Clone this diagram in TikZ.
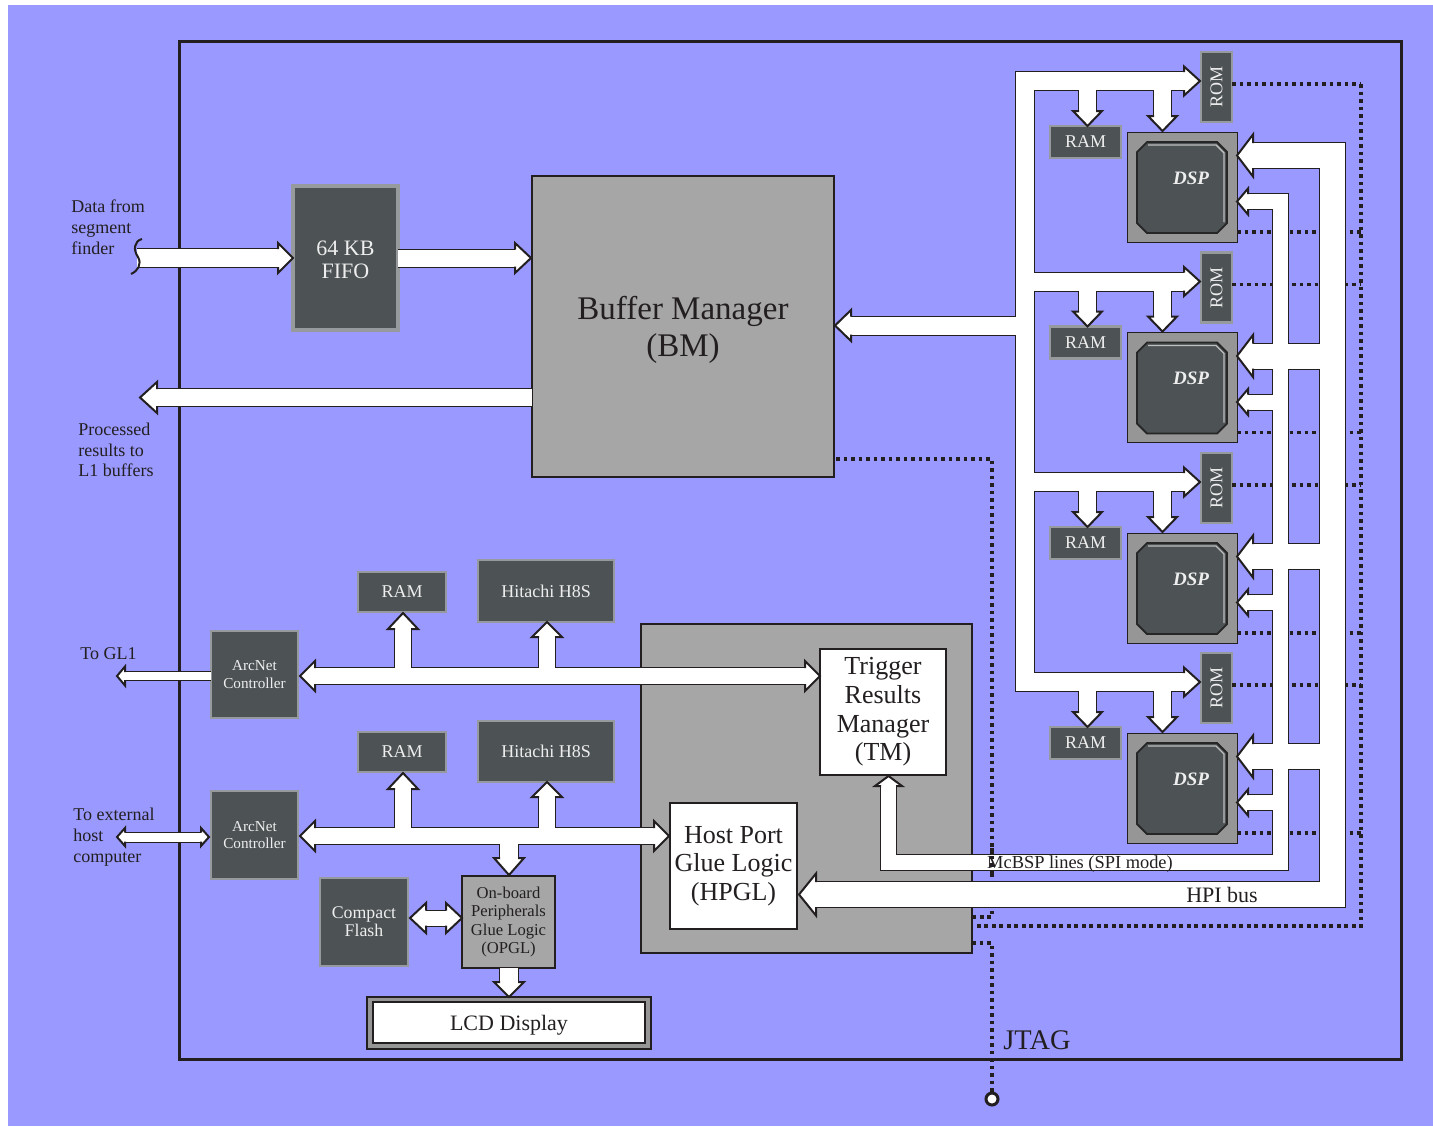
\documentclass[tikz,border=0pt]{standalone}
\usepackage{fontspec}
\usepackage{graphicx}
\setmainfont{Liberation Serif}
\usetikzlibrary{calc}
\definecolor{bgp}{RGB}{153,153,255}
\definecolor{ink}{RGB}{35,31,32}
\definecolor{boxdark}{RGB}{77,82,84}
\definecolor{bevel}{RGB}{150,154,156}
\definecolor{midgray}{RGB}{166,166,166}
\definecolor{dspgray}{RGB}{150,150,150}
\definecolor{txtlight}{RGB}{238,238,238}
\newcommand\fs[2]{\fontsize{#1}{#2}\selectfont}
\tikzset{
 darkbox/.style={fill=boxdark, draw=bevel, line width=1.4pt, text=txtlight, align=center},
 graybox/.style={fill=midgray, draw=ink, line width=1pt, text=ink, align=center},
 whitebox/.style={fill=white, draw=ink, line width=1pt, text=ink, align=center},
 lbl/.style={text=ink, align=left, inner sep=0pt, anchor=west},
 dots/.style={draw=ink, line width=1.7pt, dash pattern=on 1.8pt off 1.95pt},
 bko/.style={draw=ink, line width=#1*0.5pt+1pt, line join=miter},
 wsh/.style={draw=white, line width=#1*0.5pt, line join=miter},
}
\newcommand\boxnode[7][]{\node[#1, minimum width={((#5)-(#3))*0.5pt}, minimum height={((#6)-(#4))*0.5pt}, inner sep=0pt, outer sep=0pt] (#2) at ({((#3)+(#5))/2},{((#4)+(#6))/2}) {#7};}
% head: shaft px, head width px, head length px, tip, tail point
\newcommand\headtri[5]{%
 \coordinate (hb) at ($(#4)!#3*0.5pt!(#5)$);
 \filldraw[fill=white, draw=ink, line width=1pt, line join=miter]
 ($(hb)!#1*0.25pt!90:(#4)$) -- ($(hb)!#2*0.25pt!90:(#4)$) -- (#4) -- ($(hb)!#2*0.25pt!-90:(#4)$) -- ($(hb)!#1*0.25pt!-90:(#4)$);}
\newcommand\fat[5]{%
 \coordinate (hbx) at ($(#5)!#3*0.5pt!(#4)$);
 \draw[bko=#1] (#4) -- (hbx); \draw[wsh=#1] (#4) -- (hbx);
 \headtri{#1}{#2}{#3}{#5}{#4}}
\newcommand\dfat[5]{%
 \coordinate (hba) at ($(#4)!#3*0.5pt!(#5)$); \coordinate (hbb) at ($(#5)!#3*0.5pt!(#4)$);
 \draw[bko=#1] (hba) -- (hbb); \draw[wsh=#1] (hba) -- (hbb);
 \headtri{#1}{#2}{#3}{#4}{#5}\headtri{#1}{#2}{#3}{#5}{#4}}
\begin{document}
\begin{tikzpicture}[x=0.5pt,y=-0.5pt]
\useasboundingbox (0,0) rectangle (1433,1126);
\fill[white] (0,0) rectangle (1433,1126);
\fill[bgp] (8,5) rectangle (1433,1126);
\draw[ink, line width=1.5pt] (179,41) rectangle (1401,1059);

% ---- boxes
\boxnode[darkbox, line width=2pt, font=\fs{11}{11.8pt}]{fifo}{293}{186}{398}{330}{\rule{0pt}{9pt}64 KB\\FIFO}
\boxnode[graybox, line width=1.3pt, font=\fs{16.5}{18.5pt}]{bm}{532}{176}{834}{477}{\rule{0pt}{15.5pt}Buffer Manager\\(BM)}
\boxnode[fill=midgray, draw=ink, line width=0.6pt]{hostarea}{641}{624}{972}{953}{}
\boxnode[whitebox, font=\fs{13}{14.3pt}]{tm}{820}{649}{946}{775}{Trigger\\Results\\Manager\\(TM)}
\boxnode[whitebox, font=\fs{13}{14.3pt}]{hpgl}{670}{803}{797}{929}{Host Port\\Glue Logic\\(HPGL)}
\boxnode[darkbox, font=\fs{7.6}{8.6pt}]{arc1}{211}{631}{298}{718}{ArcNet\\Controller}
\boxnode[darkbox, font=\fs{7.6}{8.6pt}]{arc2}{211}{791}{298}{879}{ArcNet\\Controller}
\boxnode[darkbox, font=\fs{9}{10pt}]{ramA}{358}{572}{446}{612}{RAM}
\boxnode[darkbox, font=\fs{9}{10pt}]{hitA}{478}{560}{614}{622}{Hitachi H8S}
\boxnode[darkbox, font=\fs{9}{10pt}]{ramB}{358}{732}{446}{772}{RAM}
\boxnode[darkbox, font=\fs{9}{10pt}]{hitB}{478}{721}{614}{782}{Hitachi H8S}
\boxnode[darkbox, font=\fs{8.9}{9pt}]{cf}{320}{878}{408}{966}{Compact\\Flash}
\boxnode[graybox, font=\fs{8.3}{9.2pt}]{opgl}{462}{876}{555}{968}{On-board\\Peripherals\\Glue Logic\\(OPGL)}
\boxnode[fill=dspgray, draw=ink, line width=0.8pt]{lcdframe}{367}{997}{651}{1049}{}
\boxnode[whitebox, line width=0.8pt, font=\fs{11}{12pt}]{lcd}{373}{1002}{645}{1043}{\rule{0pt}{10pt}LCD Display}

\foreach \k/\L in {0/0,1/200.5,2/401,3/601}{
 \boxnode[darkbox, line width=1.2pt]{rom\k}{1201}{52+\L}{1232}{122+\L}{\rotatebox{90}{\fs{9}{10pt}ROM}}
 \boxnode[darkbox, line width=1.2pt, font=\fs{9}{10pt}]{dram\k}{1050}{126+\L}{1121}{158+\L}{RAM}
 \boxnode[fill=dspgray, draw=ink, line width=0.5pt]{dsp\k}{1127}{132+\L}{1237}{242+\L}{}
 \filldraw[fill=boxdark, draw=black!85, line width=0.9pt] (1147,142+\L) -- (1217,142+\L) -- (1227,152+\L) -- (1227,223+\L) -- (1217,233+\L) -- (1147,233+\L) -- (1137,223+\L) -- (1137,152+\L) -- cycle;
 \draw[black!25, line width=0.7pt] (1148,145+\L) -- (1216,145+\L) -- (1224,153+\L) -- (1224,222+\L);
 \node[text=txtlight, font=\fs{9.5}{10pt}\bfseries\itshape] (dsplbl\k) at (1191,178+\L) {DSP};
}

% ---- dotted lines (JTAG chain)
\foreach \L in {0,200.5,401,601}{
 \draw[dots] (1232,84+\L) -- (1361,84+\L);
 \draw[dots] (1237,232+\L) -- (1361,232+\L);
}
\draw[dots] (1361,84) -- (1361,926) -- (977,926);
\draw[dots] (836,459) -- (992,459) -- (992,917) -- (972,917);
\draw[dots] (972,943) -- (992,943) -- (992,1092);
\node[circle, draw=ink, fill=white, line width=1.5pt, minimum size=6pt, inner sep=0pt] (jtagpin) at (992,1099) {};
\node[text=ink, font=\fs{14.2}{15pt}] (jtag) at (1037,1040) {JTAG};

% ---- left DSP bus (BM <-> ROM/RAM/DSP)
\foreach \L in {0,200.5,401,601}{\draw[bko=17] (1087.5,81+\L) -- (1087.5,111+\L) (1162.5,81+\L) -- (1162.5,116+\L);}
\draw[bko=18] (1184,81) -- (1025,81) -- (1025,682) -- (1184,682) (1025,281.5) -- (1184,281.5) (1025,482) -- (1184,482) (1025,325.5) -- (851,325.5);
\foreach \L in {0,200.5,401,601}{\draw[wsh=17] (1087.5,81+\L) -- (1087.5,111+\L) (1162.5,81+\L) -- (1162.5,116+\L);}
\draw[wsh=18] (1184,81) -- (1025,81) -- (1025,682) -- (1184,682) (1025,281.5) -- (1184,281.5) (1025,482) -- (1184,482) (1025,325.5) -- (851,325.5);
\foreach \L in {0,200.5,401,601}{
 \headtri{18}{29}{16}{1200,81+\L}{1025,81+\L}
 \headtri{17}{29}{15}{1087.5,126+\L}{1087.5,81+\L}
 \headtri{17}{29}{15}{1162.5,131+\L}{1162.5,81+\L}
}
\headtri{18}{31}{16}{835,325.5}{1025,325.5}

% ---- HPI bus and McBSP lines
\draw[bko=15] (1248,201.5) -- (1280,201.5) -- (1280,862.5) -- (888.5,862.5) -- (888.5,786);
\foreach \L in {200.5,401,601}{\draw[bko=15] (1280,201.5+\L) -- (1248,201.5+\L);}
\draw[bko=25] (1253,155.5) -- (1332.5,155.5) -- (1332.5,894.5) -- (816,894.5);
\foreach \L in {200.5,401,601}{\draw[bko=25] (1332.5,155.5+\L) -- (1253,155.5+\L);}
\draw[wsh=15] (1248,201.5) -- (1280,201.5) -- (1280,862.5) -- (888.5,862.5) -- (888.5,786);
\foreach \L in {200.5,401,601}{\draw[wsh=15] (1280,201.5+\L) -- (1248,201.5+\L);}
\draw[wsh=25] (1253,155.5) -- (1332.5,155.5) -- (1332.5,894.5) -- (816,894.5);
\foreach \L in {200.5,401,601}{\draw[wsh=25] (1332.5,155.5+\L) -- (1253,155.5+\L);}
\foreach \L in {0,200.5,401,601}{
 \headtri{25}{42}{16}{1237,155.5+\L}{1332.5,155.5+\L}
 \headtri{15}{26}{11}{1237,201.5+\L}{1280,201.5+\L}
}
\headtri{25}{42}{17}{799,894.5}{1332.5,894.5}
\headtri{15}{27}{10}{888.5,776}{888.5,862.5}
\draw[dots] (992,848) -- (992,874);
\node[text=ink, font=\fs{9.2}{10pt}] (mcbsp) at (1080,864) {McBSP lines (SPI mode)};
\node[text=ink, font=\fs{11}{12pt}] (hpilbl) at (1222,895) {HPI bus};

% ---- top-left data path
\fat{18}{30}{15}{137,258}{293,258}
\draw[ink, line width=1pt] (142,239) .. controls (134,241) and (133,250) .. (138,257) .. controls (142,264) and (138,271) .. (131,274);
\fat{17}{30}{16}{398,258}{531,258}
\fat{17}{31}{17}{532,397.5}{140,397.5}

% ---- lower-left
\fat{8}{19}{8}{211,676}{117,676}
\dfat{9}{18}{8}{117,837}{209,837}
\draw[bko=16] (315,676) -- (805,676) (403,676) -- (403,629) (547,676) -- (547,637);
\draw[wsh=16] (315,676) -- (805,676) (403,676) -- (403,629) (547,676) -- (547,637);
\headtri{16}{30}{15}{300,676}{820,676}
\headtri{16}{30}{15}{820,676}{300,676}
\headtri{16}{30}{16}{403,613}{403,676}
\headtri{16}{30}{15}{547,622}{547,676}
\draw[bko=16] (315,836) -- (654,836) (403,836) -- (403,789) (547,836) -- (547,797);
\draw[bko=18] (509,836) -- (509,858);
\draw[wsh=16] (315,836) -- (654,836) (403,836) -- (403,789) (547,836) -- (547,797);
\draw[wsh=18] (509,836) -- (509,858);
\headtri{16}{30}{15}{300,836}{669,836}
\headtri{16}{30}{15}{669,836}{300,836}
\headtri{16}{30}{16}{403,773}{403,836}
\headtri{16}{30}{15}{547,782}{547,836}
\headtri{18}{30}{17}{509,875}{509,836}
\dfat{15}{30}{16}{410,918}{462,918}
\fat{18}{30}{15}{509,968}{509,997}

% ---- labels
\node[lbl, font=\fs{9}{10.4pt}] (dfrom) at (71,227) {Data from\\segment\\finder};
\node[lbl, font=\fs{9}{10.4pt}] (proc) at (78,450) {Processed\\results to\\L1 buffers};
\node[lbl, font=\fs{9}{10pt}] (gl1) at (80,654) {To GL1};
\node[lbl, font=\fs{9}{10.4pt}] (ext) at (73,837) {To external\\host\\computer};
\end{tikzpicture}
\end{document}
